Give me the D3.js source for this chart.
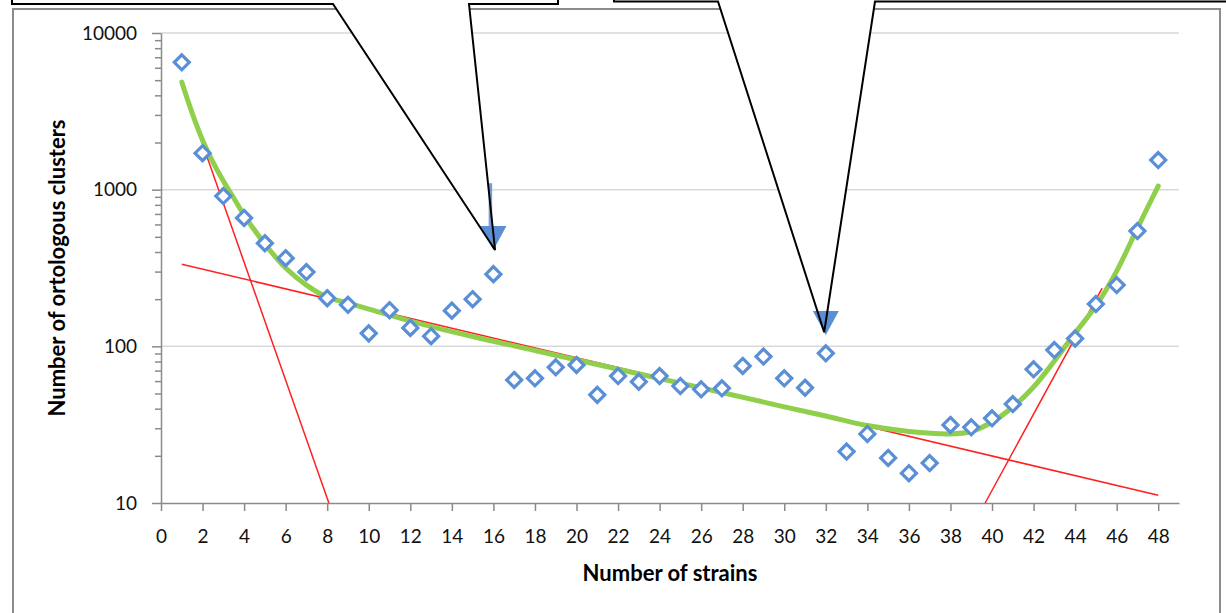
<!DOCTYPE html>
<html>
<head>
<meta charset="utf-8">
<script src="https://cdn.jsdelivr.net/npm/d3@7"></script>
<style>
  html, body { margin: 0; padding: 0; background: #fff; }
  svg { display: block; font-family: Lato, "Open Sans", sans-serif; }
</style>
</head>
<body>
<div id="chart"></div>
<script>
// observed counts: number of orthologous clusters shared by N strains
const strains = [1, 2, 3, 4, 5, 6, 7, 8, 9, 10, 11, 12, 13, 14, 15, 16, 17, 18, 19, 20, 21, 22, 23, 24,
  25, 26, 27, 28, 29, 30, 31, 32, 33, 34, 35, 36, 37, 38, 39, 40, 41, 42, 43, 44, 45, 46, 47, 48];
const clusters = [6500, 1710, 910, 660, 455, 365, 298, 203, 184, 121, 170, 131, 116, 169, 200, 289, 61, 62.5,
  73.5, 76, 49, 64.6, 59.4, 64.6, 55.8, 53.2, 54, 75, 86, 62.5, 54.4, 90.2, 21.3, 27.6, 19.4, 15.5, 18,
  31.5, 30.4, 34.7, 42.8, 71.3, 94.7, 112, 186, 246, 544, 1545];

// fitted curve (green)
const fitX = [1, 1.5, 2, 2.5, 3, 3.5, 4, 5, 6, 7, 8, 9, 10, 12, 15, 18, 21, 24, 27, 30, 32, 34, 36, 38, 39,
  40, 41, 42, 43, 44, 45, 46, 47, 48];
const fitY = [4860, 3080, 2070, 1500, 1135, 884, 689, 450, 316, 246, 206, 189, 173, 145, 115.5, 94, 76.5,
  62.3, 50.7, 41.1, 35.9, 31.2, 28.6, 27.6, 28.6, 32.9, 41, 55, 80.6, 121.6, 181, 302, 569, 1054];

// exponential components (red), start / end points
const coreLine = [[1, 4650], [8.08, 10]];
const shellLine = [[1, 334], [48, 11.2]];
const cloudLine = [[39.67, 10], [45.3, 235]];

const xTicks = [0, 2, 4, 6, 8, 10, 12, 14, 16, 18, 20, 22, 24, 26, 28, 30, 32, 34, 36, 38, 40, 42, 44, 46, 48];
const yTicks = [10, 100, 1000, 10000];
const yMinor = [20, 30, 40, 50, 60, 70, 80, 90, 200, 300, 400, 500, 600, 700, 800, 900,
  2000, 3000, 4000, 5000, 6000, 7000, 8000, 9000];

// annotation arrows (x, top value, tip value)
const arrows = [
  { x: 16, top: 1100, tip: 412, shaft: true },
  { x: 32, top: 150, tip: 118, shaft: false }
];

const W = 1226, H = 613;
const plot = { left: 161, right: 1179, top: 33, bottom: 503 };

const svg = d3.select('#chart').append('svg')
  .attr('width', W)
  .attr('height', H);

// chart frame
svg.append('rect')
  .attr('x', 13).attr('y', 9)
  .attr('width', 1207).attr('height', 640)
  .attr('fill', '#fff')
  .attr('stroke', '#8c8c8c')
  .attr('stroke-width', 2);

const x = d3.scaleLinear().domain([0, 49]).range([plot.left, plot.right]);
const y = d3.scaleLog().domain([10, 10000]).range([plot.bottom, plot.top]);

// gridlines
svg.append('g')
  .selectAll('line')
  .data(yTicks.filter(v => v > 10))
  .join('line')
  .attr('x1', plot.left).attr('x2', x(49))
  .attr('y1', d => y(d)).attr('y2', d => y(d))
  .attr('stroke', '#d9d9d9')
  .attr('stroke-width', 1.5);

const axisColor = '#8a8a8a';

// y axis: minor ticks first, then major + labels
const yMinorAxis = svg.append('g')
  .attr('transform', `translate(${plot.left},0)`)
  .call(d3.axisLeft(y).tickValues(yMinor).tickSize(6).tickSizeOuter(0).tickFormat(''));
yMinorAxis.select('.domain').remove();

const yAxis = svg.append('g')
  .attr('transform', `translate(${plot.left},0)`)
  .call(d3.axisLeft(y).tickValues(yTicks).tickSize(9).tickSizeOuter(0).tickPadding(15).tickFormat(d3.format('d')));

const xAxis = svg.append('g')
  .attr('transform', `translate(0,${plot.bottom})`)
  .call(d3.axisBottom(x).tickValues(xTicks).tickSize(8).tickSizeOuter(0).tickPadding(19));

[yMinorAxis, yAxis, xAxis].forEach(g => {
  g.selectAll('line').attr('stroke', axisColor).attr('stroke-width', 1.5);
  g.selectAll('.domain').attr('stroke', axisColor).attr('stroke-width', 1.5);
  g.selectAll('text').attr('fill', '#111').style('font-size', '19px').style('font-family', 'Lato, sans-serif');
});

// axis titles
svg.append('text')
  .attr('x', 670).attr('y', 581)
  .attr('text-anchor', 'middle')
  .style('font-size', '22px')
  .style('font-weight', 'bold')
  .text('Number of strains');

svg.append('text')
  .attr('transform', `translate(65,${(plot.top + plot.bottom) / 2}) rotate(-90)`)
  .attr('text-anchor', 'middle')
  .style('font-size', '22px')
  .style('font-weight', 'bold')
  .text('Number of ortologous clusters');

// red trend components
const straight = d3.line().x(d => x(d[0])).y(d => y(d[1]));
svg.append('g')
  .selectAll('path')
  .data([coreLine, shellLine, cloudLine])
  .join('path')
  .attr('d', straight)
  .attr('fill', 'none')
  .attr('stroke', '#ff2020')
  .attr('stroke-width', 1.5);

// green fitted curve
const fit = fitX.map((d, i) => [d, fitY[i]]);
svg.append('path')
  .datum(fit)
  .attr('d', d3.line().x(d => x(d[0])).y(d => y(d[1])).curve(d3.curveCatmullRom.alpha(0.5)))
  .attr('fill', 'none')
  .attr('stroke', '#8fcf4c')
  .attr('stroke-width', 5)
  .attr('stroke-linecap', 'round');

// diamonds
const blue = '#5a8fd6';
const r = 7.5;
svg.append('g')
  .selectAll('path')
  .data(strains.map((d, i) => [d, clusters[i]]))
  .join('path')
  .attr('transform', d => `translate(${x(d[0])},${y(d[1])})`)
  .attr('d', `M0,${-r}L${r},0L0,${r}L${-r},0Z`)
  .attr('fill', '#fff')
  .attr('stroke', blue)
  .attr('stroke-width', 3.2);

// callouts (white shapes with black outline), boxes run off the top of the page
const callouts = [
  { box: [12, 558], bottom: 4, base: [333, 469], tip: [16.08, 412] },
  { box: [614, 1240], bottom: 1.5, base: [718, 875], tip: [31.92, 123] }
];

callouts.forEach(c => {
  const tx = x(c.tip[0]), ty = y(c.tip[1]);
  svg.append('path')
    .attr('d', `M${c.box[0]},-20L${c.box[0]},${c.bottom}L${c.base[0]},${c.bottom}L${tx},${ty}L${c.base[1]},${c.bottom}L${c.box[1]},${c.bottom}L${c.box[1]},-20Z`)
    .attr('fill', '#fff')
    .attr('stroke', 'none');
});

// blue arrows under the callout outlines
arrows.forEach(a => {
  const ax = x(a.x), tip = y(a.tip), top = y(a.top);
  const headH = 24, headW = 13;
  if (a.shaft) {
    svg.append('line')
      .attr('x1', ax - 3).attr('x2', ax - 3)
      .attr('y1', top).attr('y2', tip - headH + 2)
      .attr('stroke', blue)
      .attr('stroke-opacity', 0.85)
      .attr('stroke-width', 3.5);
  }
  svg.append('path')
    .attr('d', `M${ax - headW},${tip - headH}L${ax + headW},${tip - headH}L${ax},${tip}Z`)
    .attr('fill', blue);
});

callouts.forEach(c => {
  const tx = x(c.tip[0]), ty = y(c.tip[1]);
  svg.append('path')
    .attr('d', `M${c.box[0]},-20L${c.box[0]},${c.bottom}L${c.base[0]},${c.bottom}L${tx},${ty}L${c.base[1]},${c.bottom}L${c.box[1]},${c.bottom}L${c.box[1]},-20`)
    .attr('fill', 'none')
    .attr('stroke', '#000')
    .attr('stroke-width', 2)
    .attr('stroke-linejoin', 'miter');
});
</script>
</body>
</html>
